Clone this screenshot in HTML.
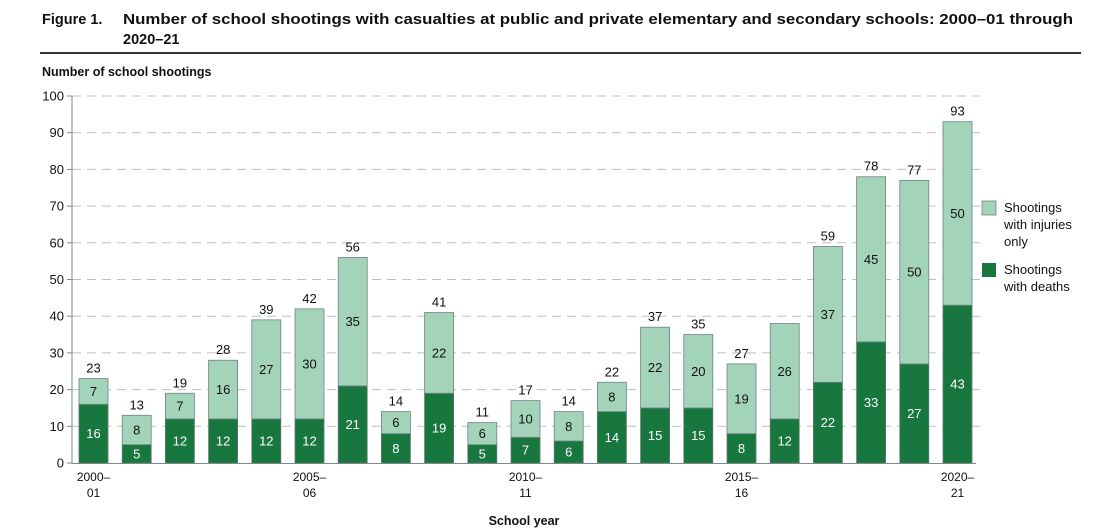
<!DOCTYPE html>
<html><head><meta charset="utf-8"><style>
html,body{margin:0;padding:0;background:#fff;}
svg{display:block;font-family:"Liberation Sans",Arial,sans-serif;}
</style></head><body>
<svg id="chart" width="1113" height="530" viewBox="0 0 1113 530" xmlns="http://www.w3.org/2000/svg">
<text x="42" y="24" font-size="14.5" font-weight="bold" fill="#111">Figure 1.</text>
<text x="123" y="24" font-size="14.5" font-weight="bold" fill="#111" textLength="950" lengthAdjust="spacingAndGlyphs">Number of school shootings with casualties at public and private elementary and secondary schools: 2000–01 through</text>
<text x="123" y="44" font-size="14.5" font-weight="bold" fill="#111">2020–21</text>
<rect x="40" y="52" width="1041" height="2" fill="#333"/>
<text x="42" y="76" font-size="12.5" font-weight="bold" fill="#111">Number of school shootings</text>
<text x="524" y="525" font-size="12.5" font-weight="bold" fill="#111" text-anchor="middle">School year</text>
<g id="grid"></g><g id="bars"></g><g id="labels"></g>
<line x1="72" y1="96" x2="72" y2="464" stroke="#7b8a8b" stroke-width="1"/>
<line x1="72" y1="463.5" x2="976" y2="463.5" stroke="#7b8a8b" stroke-width="1"/>
<rect x="982" y="201" width="14" height="14" fill="#a3d3b8" stroke="#6f8384" stroke-width="0.8"/>
<text font-size="13" fill="#111"><tspan x="1004" y="212">Shootings</tspan><tspan x="1004" y="229">with injuries</tspan><tspan x="1004" y="246">only</tspan></text>
<rect x="982" y="263" width="14" height="14" fill="#17773e"/>
<text font-size="13" fill="#111"><tspan x="1004" y="274">Shootings</tspan><tspan x="1004" y="291">with deaths</tspan></text>
</svg>
<script>
const years = ["2000–01","2001–02","2002–03","2003–04","2004–05","2005–06","2006–07","2007–08","2008–09","2009–10","2010–11","2011–12","2012–13","2013–14","2014–15","2015–16","2016–17","2017–18","2018–19","2019–20","2020–21"];
const deaths = [16,5,12,12,12,12,21,8,19,5,7,6,14,15,15,8,12,22,33,27,43];
const injuries = [7,8,7,16,27,30,35,6,22,6,10,8,8,22,20,19,26,37,45,50,50];
const totalLabels = ["23","13","19","28","39","42","56","14","41","11","17","14","22","37","35","27","","59","78","77","93"];
const yTicks = [0,10,20,30,40,50,60,70,80,90,100];
const xTickLabels = [["2000–","01"],null,null,null,null,["2005–","06"],null,null,null,null,["2010–","11"],null,null,null,null,["2015–","16"],null,null,null,null,["2020–","21"]];

const NS="http://www.w3.org/2000/svg";
const y0=463, yTop=96, yMax=100;
const y = v => y0 - (v/yMax)*(y0-yTop);
const step=43.2, bw=29, x0=79;
const x = i => x0 + i*step;
function mk(tag, attrs, parent){const e=document.createElementNS(NS,tag);for(const k in attrs)e.setAttribute(k,attrs[k]);parent.appendChild(e);return e;}
const grid=document.getElementById('grid'), bars=document.getElementById('bars'), labels=document.getElementById('labels');

yTicks.forEach(t=>{
  if(t>0){const l=mk('line',{x1:72,x2:980,y1:y(t),y2:y(t),stroke:'#bfbfbf','stroke-width':1,'stroke-dasharray':'9,6'},grid);
  
  }
  const tk=mk('line',{x1:67,x2:72,y1:y(t),y2:y(t),stroke:'#7b8a8b'},grid);
  
  
  const tx=mk('text',{x:64,y:y(t)+4.5,'font-size':13,'text-anchor':'end',fill:'#111'},labels);
  tx.textContent=t;
  
  
});

years.forEach((yr,i)=>{
  const d=deaths[i], inj=injuries[i], cx=x(i)+bw/2;
  const r1=mk('rect',{x:x(i),y:y(d),width:bw,height:y0-y(d),fill:'#17773e',stroke:'#5f7a6c','stroke-width':0.8},bars);
  
  
  const r2=mk('rect',{x:x(i),y:y(d+inj),width:bw,height:y(d)-y(d+inj),fill:'#a3d3b8',stroke:'#6f8384','stroke-width':0.8},bars);
  
  
  const t1=mk('text',{x:cx,y:(y(d)+y0)/2+4.5,'font-size':13,'text-anchor':'middle',fill:'#fff'},labels);
  t1.textContent=d;
  
  
  const t2=mk('text',{x:cx,y:(y(d)+y(d+inj))/2+4.5,'font-size':13,'text-anchor':'middle',fill:'#111'},labels);
  t2.textContent=inj;
  
  
  if(totalLabels[i]){
    const t3=mk('text',{x:cx,y:y(d+inj)-6,'font-size':13,'text-anchor':'middle',fill:'#111'},labels);
    t3.textContent=totalLabels[i];
    
    
  }
  if(xTickLabels[i]){
    const t4=mk('text',{x:cx,'font-size':12,'text-anchor':'middle',fill:'#111'},labels);
    
    
    xTickLabels[i].forEach((s,k)=>{const ts=mk('tspan',{x:cx,y:481+k*16},t4);ts.textContent=s;});
  }
});
</script>
</body></html>
